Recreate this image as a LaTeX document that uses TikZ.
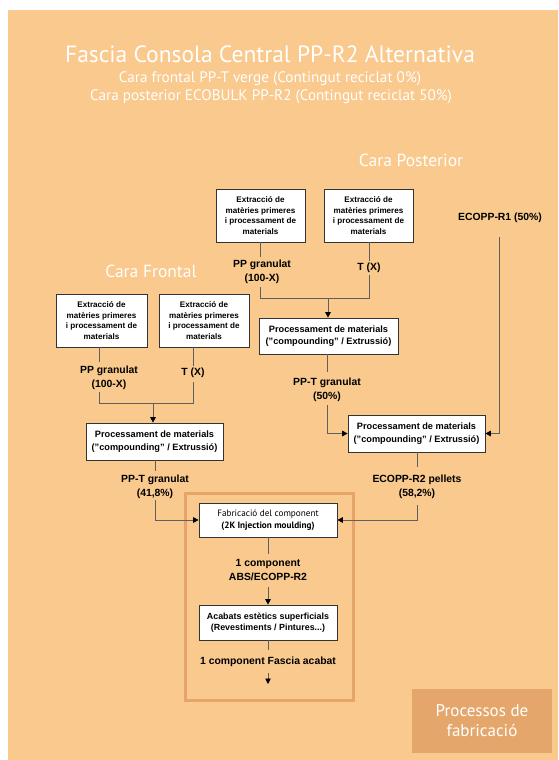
\documentclass[tikz,border=0pt]{standalone}
\usepackage{fontspec}
\setmainfont{Liberation Sans}
\newfontfamily\titlefont{PT Sans}
\usetikzlibrary{arrows.meta}
\definecolor{bgor}{RGB}{249,201,141}
\definecolor{darkor}{RGB}{229,166,108}
\definecolor{frameor}{RGB}{232,164,104}
\definecolor{linegray}{RGB}{95,95,95}
\newcommand{\dq}{\char"22\relax}
\tikzset{
  procbox/.style={draw=black!80, line width=0.7pt, fill=white, align=center, font=\fontsize{8.1}{10.5}\selectfont\bfseries, inner sep=1pt},
  bigbox/.style={procbox, font=\fontsize{9.2}{12.5}\selectfont\bfseries},
  lbl/.style={align=center, font=\fontsize{10.4}{14}\selectfont\bfseries, inner sep=0pt},
  conn/.style={draw=linegray, line width=0.9pt},
  arr/.style={conn, -{Triangle[length=5.5pt,width=5.5pt,color=black]}},
  ttl/.style={text=white, font=\titlefont, inner sep=0pt},
}
\begin{document}
\begin{tikzpicture}[x=1pt,y=-1pt]
\useasboundingbox (0,0) rectangle (558,760);
\fill[bgor] (8,10) rectangle (558,760);
% titles
\node[ttl, font=\titlefont\fontsize{23.5}{26}\selectfont] (title) at (270,54) {Fascia Consola Central PP-R2 Alternativa};
\node[ttl, font=\titlefont\fontsize{15.2}{17}\selectfont] (sub1) at (270,79) {Cara frontal PP-T verge (Contingut reciclat 0\%)};
\node[ttl, font=\titlefont\fontsize{15.2}{17}\selectfont] (sub2) at (271,97) {Cara posterior ECOBULK PP-R2 (Contingut reciclat 50\%)};
\node[ttl, font=\titlefont\fontsize{17.5}{20}\selectfont] (cpost) at (411,160) {Cara Posterior};
\node[ttl, font=\titlefont\fontsize{17.5}{20}\selectfont] (cfront) at (151,271) {Cara Frontal};
% frame
\draw[frameor, line width=3pt] (185,493) rectangle (353,700);
% processos box
\node[fill=darkor, minimum width=140pt, minimum height=64pt, text=white, align=center, font=\titlefont\fontsize{17}{20}\selectfont] (proc) at (482,721) {Processos de\\fabricació};
% ---- left (Cara Frontal)
\node[procbox, minimum width=91pt, minimum height=53pt] (L1) at (101.5,320.5) {Extracció de\\matèries primeres\\i processament de\\materials};
\node[procbox, minimum width=90pt, minimum height=53pt] (L2) at (204,320.5) {Extracció de\\matèries primeres\\i processament de\\materials};
\node[lbl] (L1l) at (109,377.5) {PP granulat\\(100-X)};
\node[lbl] (L2l) at (193,373) {T (X)};
\node[bigbox, minimum width=137pt, minimum height=37pt] (L3) at (154.5,441.5) {Processament de materials\\(\dq compounding\dq\ / Extrussió)};
\node[lbl] (L3l) at (155,486.5) {PP-T granulat\\(41,8\%)};
\coordinate (Lj) at (153,403);
\draw[conn] (99,347) -- (99,362);
\draw[conn] (99,392) -- (99,403) -- (193,403) -- (193,382);
\draw[conn] (193,347) -- (193,366);
\draw[arr] (Lj) -- (L3.north -| Lj);
\draw[conn] (155,460) -- (155,471);
% ---- right top (Cara Posterior)
\node[procbox, minimum width=89pt, minimum height=53pt] (R1) at (260.5,215.5) {Extracció de\\matèries primeres\\i processament de\\materials};
\node[procbox, minimum width=89pt, minimum height=53pt] (R2) at (368.5,215.5) {Extracció de\\matèries primeres\\i processament de\\materials};
\node[lbl] (R1l) at (262,272) {PP granulat\\(100-X)};
\node[lbl] (R2l) at (369,268) {T (X)};
\node[bigbox, minimum width=139pt, minimum height=36pt] (R3) at (328.5,336) {Processament de materials\\(\dq compounding\dq\ / Extrussió)};
\node[lbl] (R3l) at (327,390) {PP-T granulat\\(50\%)};
\node[lbl] (eco1) at (500,218) {ECOPP-R1 (50\%)};
\node[bigbox, minimum width=137pt, minimum height=37pt] (R4) at (416.5,433.5) {Processament de materials\\(\dq compounding\dq\ / Extrussió)};
\node[lbl] (R4l) at (417,486.5) {ECOPP-R2 pellets\\(58,2\%)};
\coordinate (Rj) at (328,298);
\draw[conn] (260,242) -- (260,257);
\draw[conn] (260,287) -- (260,298) -- (369,298) -- (369,275);
\draw[conn] (369,242) -- (369,261);
\draw[arr] (Rj) -- (R3.north -| Rj);
\draw[conn] (327,354) -- (327,372);
\draw[arr] (327,405) -- (327,433.5) -- (R4.west);
\draw[arr] (499,237) -- (499,433.5) -- (R4.east);
\draw[conn] (417,452) -- (417,467);
% ---- center
\node[procbox, minimum width=138pt, minimum height=34pt, font=\titlefont\fontsize{9.2}{11.5}\selectfont] (C1) at (268,520) {Fabricació del component\\\bfseries(2K Injection moulding)};
\node[lbl] (C1l) at (268,570) {1 component\\ABS/ECOPP-R2};
\node[procbox, minimum width=138pt, minimum height=35pt, font=\fontsize{8.9}{11.5}\selectfont\bfseries] (C2) at (268,622.5) {Acabats estètics superficials\\(Revestiments / Pintures...)};
\node[lbl] (C2l) at (268,662) {1 component Fascia acabat};
\coordinate (endp) at (268,684);
\draw[arr] (155,500) -- (155,520) -- (C1.west);
\draw[arr] (417,505) -- (417,520) -- (C1.east);
\draw[conn] (C1.south) -- (268,554);
\draw[arr] (268,587) -- (C2.north);
\draw[conn] (C2.south) -- (268,650);
\draw[arr] (268,673) -- (endp);
\end{tikzpicture}
\end{document}
